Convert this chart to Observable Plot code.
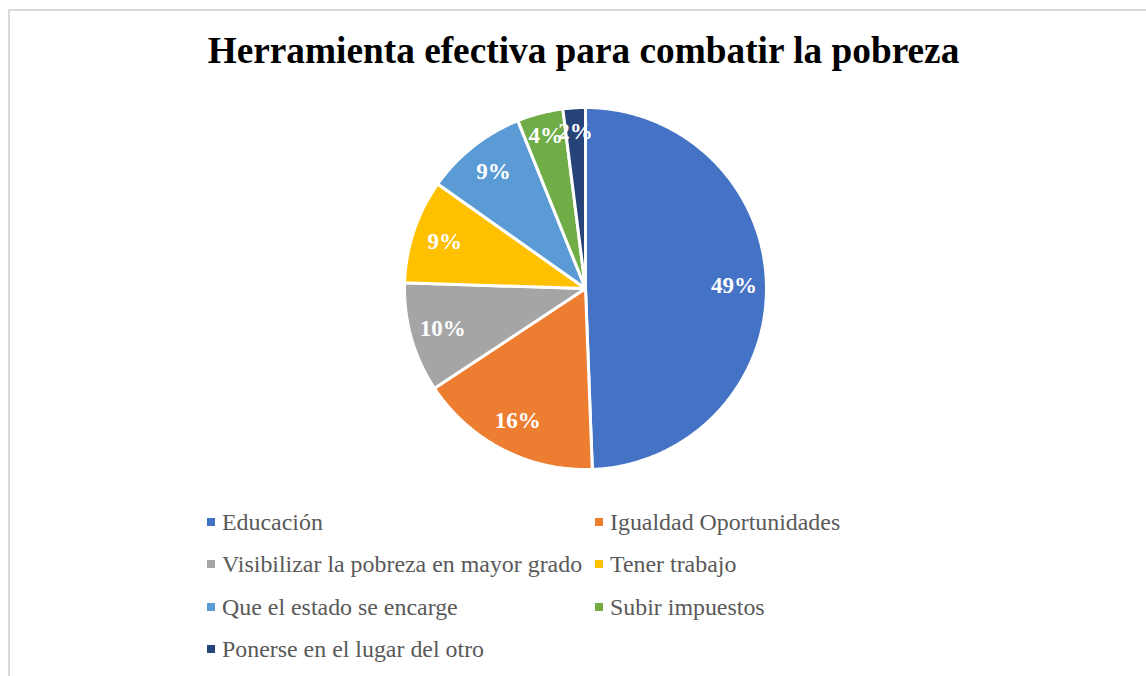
<!DOCTYPE html>
<html>
<head>
<meta charset="utf-8">
<script src="https://cdn.jsdelivr.net/npm/d3@7"></script>
<script src="https://cdn.jsdelivr.net/npm/@observablehq/plot@0.6"></script>
<style>
  html, body { margin: 0; padding: 0; background: #fff; width: 1146px; height: 676px; overflow: hidden; }
  #frame { position: absolute; left: 8px; top: 9px; width: 1200px; height: 700px; border: 2px solid #dadada; box-sizing: border-box; }
  #title { position: absolute; left: 0; width: 1167px; top: 28px; text-align: center; font-family: "Liberation Serif", "Times New Roman", serif; font-weight: bold; font-size: 37.3px; color: #000; line-height: 46px; }
  #pie { position: absolute; left: 385px; top: 88px; }
  #pie svg text { font-family: "Liberation Serif", "Times New Roman", serif; }
  .leg { position: absolute; font-family: "Liberation Serif", "Times New Roman", serif; font-size: 23.9px; color: #595959; white-space: nowrap; line-height: 28px; }
  .leg .sw { position: absolute; left: 0; top: 10px; width: 8px; height: 8px; }
  .leg .tx { position: absolute; left: 15px; top: 0; }
</style>
</head>
<body>
<div id="frame"></div>
<div id="title">Herramienta efectiva para combatir la pobreza</div>
<div id="pie"></div>
<div id="legend"></div>
<script>
// Data
const categories = [
  "Educación",
  "Igualdad Oportunidades",
  "Visibilizar la pobreza en mayor grado",
  "Tener trabajo",
  "Que el estado se encarge",
  "Subir impuestos",
  "Ponerse en el lugar del otro"
];
const shares = [49.4, 16.3, 9.8, 9.3, 9.1, 4.1, 2.0];
const colors = ["#4472C4", "#ED7D31", "#A5A5A5", "#FFC000", "#5B9BD5", "#70AD47", "#264478"];

// Geometry from data
const R = 181;
const total = d3.sum(shares);
const rows = categories.map((c, i) => ({category: c, value: shares[i]}));
const arcs = d3.pie().sort(null).value(d => d.value)(rows);

const pts = [];
const labels = [];
arcs.forEach(a => {
  const c = a.data.category;
  pts.push({category: c, x: 0, y: 0});
  const n = Math.max(4, Math.ceil((a.endAngle - a.startAngle) / (Math.PI / 360)));
  for (let k = 0; k <= n; k++) {
    const t = a.startAngle + (a.endAngle - a.startAngle) * k / n;
    pts.push({category: c, x: R * Math.sin(t), y: R * Math.cos(t)});
  }
  pts.push({category: c, x: 0, y: 0});
  const m = (a.startAngle + a.endAngle) / 2;
  const frac = a.data.value / total;
  const lr = frac < 0.05 ? R * 0.87 : R * 0.82;
  labels.push({category: c, x: lr * Math.sin(m), y: lr * Math.cos(m), text: Math.round(frac * 100) + "%"});
});
labels.reverse();

const chart = Plot.plot({
  width: 400,
  height: 400,
  margin: 0,
  x: {domain: [-200, 200], axis: null},
  y: {domain: [-200, 200], axis: null},
  color: {domain: categories, range: colors},
  marks: [
    Plot.line(pts, {x: "x", y: "y", z: "category", fill: "category", stroke: "white", strokeWidth: 3, strokeLinejoin: "miter", curve: "linear"}),
    Plot.text(labels, {x: "x", y: "y", text: "text", fill: "white", fontSize: 23, fontWeight: "bold", fontFamily: "Liberation Serif"})
  ],
  style: {background: "transparent", overflow: "visible", fontFamily: "Liberation Serif"}
});
document.getElementById("pie").appendChild(chart);

// Legend
const legend = document.getElementById("legend");
const colX = [207, 595];
const rowY = 508;
const rowStep = 42.3;
categories.forEach((lab, i) => {
  const d = document.createElement("div");
  d.className = "leg";
  d.style.left = colX[i % 2] + "px";
  d.style.top = (rowY + Math.floor(i / 2) * rowStep) + "px";
  const sw = document.createElement("div");
  sw.className = "sw";
  sw.style.background = colors[i];
  const tx = document.createElement("div");
  tx.className = "tx";
  tx.textContent = lab;
  d.appendChild(sw); d.appendChild(tx);
  legend.appendChild(d);
});
</script>
</body>
</html>
